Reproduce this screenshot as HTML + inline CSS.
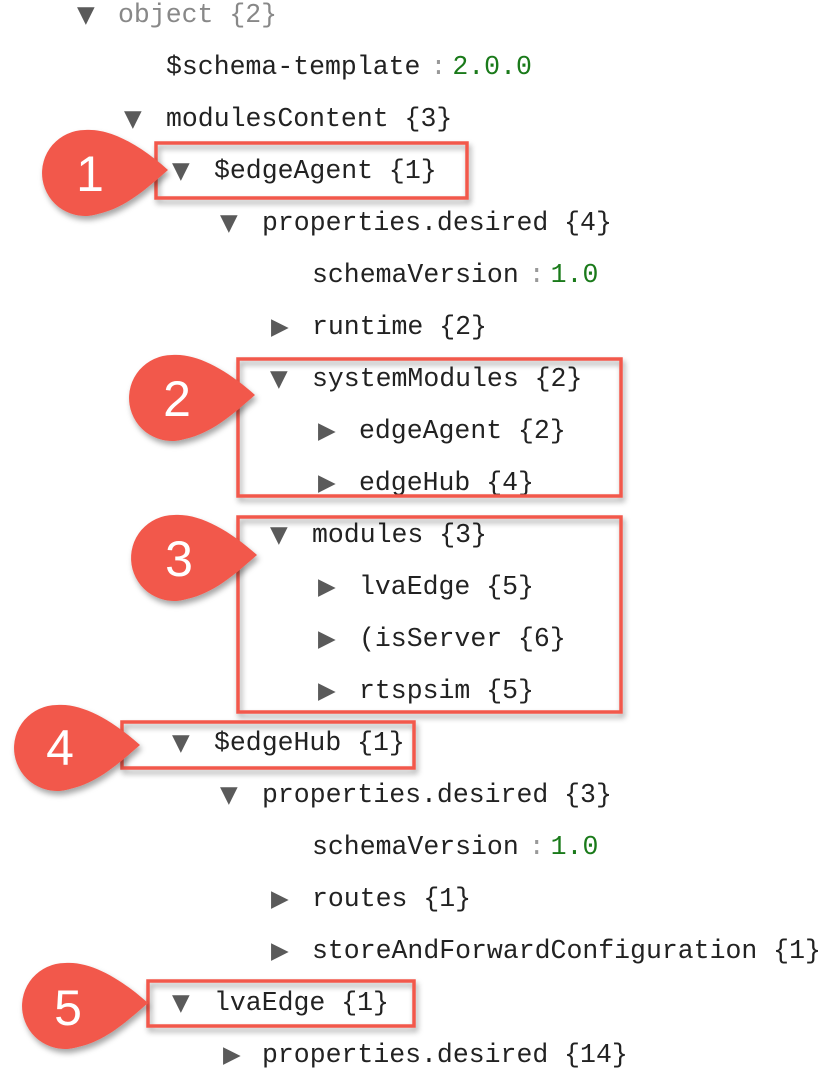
<!DOCTYPE html>
<html><head><meta charset="utf-8"><style>
body{margin:0;width:838px;height:1086px;background:#fff;position:relative;overflow:hidden;font-family:"Liberation Mono","DejaVu Sans Mono",monospace;}
.r{position:absolute;height:52px;line-height:52px;font-size:26.5px;color:#222;white-space:pre;}
.t{position:absolute;height:52px;line-height:52px;font-size:23px;color:#5a5a5a;font-family:"DejaVu Sans",sans-serif;}
.g{color:#888}.v{color:#1a7a1a}.c{color:#999;margin:0 6px 0 10px}
svg{position:absolute;left:0;top:0}
</style></head><body>
<span class="t" style="left:77px;top:-11px">▼</span><div class="r g" style="left:118px;top:-11px">object {2}</div>
<div class="r" style="left:166px;top:41px">$schema-template<span class="c">:</span><span class="v">2.0.0</span></div>
<span class="t" style="left:124px;top:93px">▼</span><div class="r" style="left:166px;top:93px">modulesContent {3}</div>
<span class="t" style="left:172px;top:145px">▼</span><div class="r" style="left:214px;top:145px">$edgeAgent {1}</div>
<span class="t" style="left:220px;top:197px">▼</span><div class="r" style="left:262px;top:197px">properties.desired {4}</div>
<div class="r" style="left:312px;top:249px">schemaVersion<span class="c">:</span><span class="v">1.0</span></div>
<span class="t" style="left:271px;top:301px">▶</span><div class="r" style="left:312px;top:301px">runtime {2}</div>
<span class="t" style="left:270px;top:353px">▼</span><div class="r" style="left:312px;top:353px">systemModules {2}</div>
<span class="t" style="left:318px;top:405px">▶</span><div class="r" style="left:359px;top:405px">edgeAgent {2}</div>
<span class="t" style="left:318px;top:457px">▶</span><div class="r" style="left:359px;top:457px">edgeHub {4}</div>
<span class="t" style="left:270px;top:509px">▼</span><div class="r" style="left:312px;top:509px">modules {3}</div>
<span class="t" style="left:318px;top:561px">▶</span><div class="r" style="left:359px;top:561px">lvaEdge {5}</div>
<span class="t" style="left:318px;top:613px">▶</span><div class="r" style="left:359px;top:613px">(isServer {6}</div>
<span class="t" style="left:318px;top:665px">▶</span><div class="r" style="left:359px;top:665px">rtspsim {5}</div>
<span class="t" style="left:172px;top:717px">▼</span><div class="r" style="left:214px;top:717px">$edgeHub {1}</div>
<span class="t" style="left:220px;top:769px">▼</span><div class="r" style="left:262px;top:769px">properties.desired {3}</div>
<div class="r" style="left:312px;top:821px">schemaVersion<span class="c">:</span><span class="v">1.0</span></div>
<span class="t" style="left:271px;top:873px">▶</span><div class="r" style="left:312px;top:873px">routes {1}</div>
<span class="t" style="left:271px;top:925px">▶</span><div class="r" style="left:312px;top:925px">storeAndForwardConfiguration {1}</div>
<span class="t" style="left:172px;top:977px">▼</span><div class="r" style="left:214px;top:977px">lvaEdge {1}</div>
<span class="t" style="left:223px;top:1029px">▶</span><div class="r" style="left:262px;top:1029px">properties.desired {14}</div>
<svg width="838" height="1086" viewBox="0 0 838 1086">
<defs><filter id="s" x="-20%" y="-20%" width="150%" height="150%"><feDropShadow dx="2" dy="4" stdDeviation="3" flood-color="#000" flood-opacity="0.35"/></filter></defs>
<g fill="none" stroke="#f2594b" stroke-width="3.5" filter="url(#s)">
<rect x="156" y="143" width="311" height="55"/>
<rect x="238" y="359" width="383" height="137"/>
<rect x="238" y="517" width="383" height="195"/>
<rect x="122" y="722" width="292" height="46"/>
<rect x="148" y="981" width="266" height="45"/>
</g>
<g fill="#f2594b" filter="url(#s)">
<path d="M168 170 C140 145 110 128 85 130 A43 43 0 1 0 98 214 C125 208 145 190 168 170Z"/>
<path d="M255 395 C227 370 197 353 172 355 A43 43 0 1 0 185 439 C212 433 232 415 255 395Z"/>
<path d="M257 555 C229 530 199 513 174 515 A43 43 0 1 0 187 599 C214 593 234 575 257 555Z"/>
<path d="M140 745 C112 720 82 703 57 705 A43 43 0 1 0 70 789 C97 783 117 765 140 745Z"/>
<path d="M148 1003 C120 978 90 961 65 963 A43 43 0 1 0 78 1047 C105 1041 125 1023 148 1003Z"/>
</g>
<g fill="#fff" font-family="Liberation Sans, sans-serif" font-size="50" text-anchor="middle">
<text x="90" y="191">1</text><text x="177" y="416">2</text><text x="179" y="576">3</text><text x="60" y="765">4</text><text x="68" y="1025">5</text>
</g>
</svg>
</body></html>
